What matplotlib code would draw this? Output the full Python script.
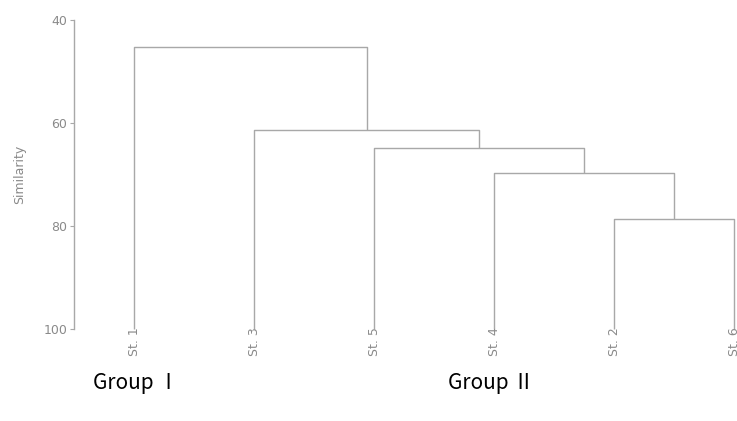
import matplotlib
matplotlib.use("Agg")
import matplotlib.pyplot as plt

leaf_labels = ["St. 1", "St. 3", "St. 5", "St. 4", "St. 2", "St. 6"]
# merges: (left child, right child, similarity); children are leaf names or cluster ids "c0".."c4"
merge_left = ["St. 2", "St. 4", "St. 5", "St. 3", "St. 1"]
merge_right = ["St. 6", "c0", "c1", "c2", "c3"]
merge_sim = [78.6, 69.7, 64.9, 61.4, 45.2]
yticks = [40, 60, 80, 100]
group_labels = ["Group Ⅰ", "Group Ⅱ"]

W, H = 737, 421
fig = plt.figure(figsize=(W / 100, H / 100), dpi=100)
ax = fig.add_axes([74 / W, (H - 329) / H, 720 / W, 309 / H])

line_col = "#a8a8a8"
text_col = "#8a8a8a"

xpos = {name: i for i, name in enumerate(leaf_labels)}
ypos = {name: 100.0 for name in leaf_labels}
for k, (l, r, s) in enumerate(zip(merge_left, merge_right, merge_sim)):
    xl, xr = xpos[l], xpos[r]
    ax.plot([xl, xl, xr, xr], [ypos[l], s, s, ypos[r]], color=line_col, lw=1.0,
            solid_capstyle="butt", clip_on=False)
    cid = "c%d" % k
    xpos[cid] = (xl + xr) / 2
    ypos[cid] = s

ax.set_xlim(-0.5, 5.5)
ax.set_ylim(100, 40)
for sp in ["top", "right", "bottom"]:
    ax.spines[sp].set_visible(False)
ax.spines["left"].set_color(line_col)
ax.spines["left"].set_linewidth(1.0)
ax.set_yticks(yticks)
ax.set_yticklabels([str(v) for v in yticks])
ax.tick_params(axis="y", colors=line_col, labelcolor=text_col, labelsize=9,
               length=3, width=0.8, pad=2)
ax.set_xticks([])
ax.set_ylabel("Similarity", color=text_col, fontsize=9, labelpad=12)

for name in leaf_labels:
    ax.annotate(name, (xpos[name], 100), xytext=(0, 1), textcoords="offset points",
                rotation=90, ha="center", va="top", fontsize=9, color=text_col,
                annotation_clip=False)

fig.text(93 / W, 1 - 383 / H, group_labels[0], fontsize=15, color="black",
         family=["Noto Sans CJK KR", "DejaVu Sans"], ha="left", va="center")
fig.text(448 / W, 1 - 383 / H, group_labels[1], fontsize=15, color="black",
         family=["Noto Sans CJK KR", "DejaVu Sans"], ha="left", va="center")

fig.savefig("out.png", dpi=100)
